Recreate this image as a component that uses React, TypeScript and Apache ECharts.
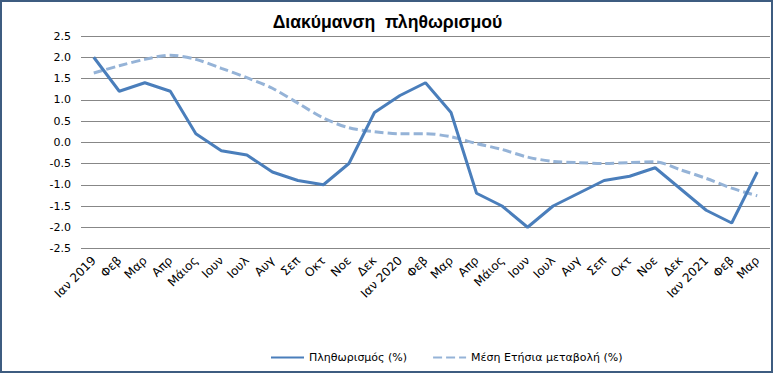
import React, { useEffect, useRef } from "react";
import * as echarts from "echarts";

const categories = [
  "Ιαν 2019", "Φεβ", "Μαρ", "Απρ", "Μάιος", "Ιουν", "Ιουλ", "Αυγ", "Σεπ", "Οκτ", "Νοε", "Δεκ",
  "Ιαν 2020", "Φεβ", "Μαρ", "Απρ", "Μάιος", "Ιουν", "Ιουλ", "Αυγ", "Σεπ", "Οκτ", "Νοε", "Δεκ",
  "Ιαν 2021", "Φεβ", "Μαρ",
];

const inflation = [
  2.0, 1.2, 1.4, 1.2, 0.2, -0.2, -0.3, -0.7, -0.9, -1.0, -0.5, 0.7,
  1.1, 1.4, 0.7, -1.2, -1.5, -2.0, -1.5, -1.2, -0.9, -0.8, -0.6, -1.1,
  -1.6, -1.9, -0.7,
];

const avgAnnual = [
  1.63, 1.8, 1.95, 2.05, 1.95, 1.74, 1.52, 1.27, 0.92, 0.57, 0.34, 0.25,
  0.2, 0.2, 0.13, -0.03, -0.17, -0.35, -0.45, -0.48, -0.5, -0.48, -0.46, -0.65,
  -0.85, -1.08, -1.26,
];

const seriesNames = ["Πληθωρισμός (%)", "Μέση Ετήσια μεταβολή (%)"];
const titleText = "Διακύμανση  πληθωρισμού";

export default function App() {
  const ref = useRef<HTMLDivElement>(null);
  useEffect(() => {
    if (!ref.current) return;
    const chart = echarts.init(ref.current, null, { renderer: "svg" });
    const font = "DejaVu Sans";
    chart.setOption({
      animation: false,
      backgroundColor: "#ffffff",
      title: {
        text: titleText,
        left: "center",
        top: 8,
        textStyle: {
          fontFamily: "Liberation Sans",
          fontWeight: "bold",
          fontSize: 17.6,
          color: "#000000",
        },
      },
      grid: { left: 81, right: 5, top: 36, bottom: 125.5 },
      xAxis: {
        type: "category",
        data: categories,
        boundaryGap: true,
        axisLine: { show: false },
        axisTick: { show: false },
        axisLabel: {
          interval: 0,
          rotate: 45,
          margin: 10,
          fontFamily: font,
          fontSize: 12,
          color: "#000000",
        },
      },
      yAxis: {
        type: "value",
        min: -2.5,
        max: 2.5,
        interval: 0.5,
        axisLine: { show: false },
        axisTick: { show: false },
        splitLine: { lineStyle: { color: "#878787", width: 1 } },
        axisLabel: {
          margin: 10,
          fontFamily: font,
          fontSize: 11,
          color: "#000000",
          formatter: (v: number) => v.toFixed(1),
        },
      },
      legend: {
        left: 270,
        top: 352,
        padding: 0,
        itemWidth: 33,
        itemHeight: 14,
        itemGap: 25,
        itemStyle: { opacity: 0 },
        textStyle: { fontFamily: font, fontSize: 11, color: "#000000" },
        data: seriesNames,
      },
      graphic: [
        {
          type: "rect",
          shape: { x: 1, y: 1, width: 771, height: 371 },
          style: { fill: "none", stroke: "#3E5C80", lineWidth: 2 },
          silent: true,
          z: 100,
        },
      ],
      series: [
        {
          name: seriesNames[0],
          type: "line",
          data: inflation,
          symbol: "none",
          lineStyle: { color: "#4A7EBB", width: 3 },
          itemStyle: { color: "#4A7EBB" },
          z: 3,
        },
        {
          name: seriesNames[1],
          type: "line",
          data: avgAnnual,
          symbol: "none",
          smooth: 0.3,
          lineStyle: { color: "#95B3D7", width: 3, type: [9, 4] },
          itemStyle: { color: "#95B3D7" },
          z: 2,
        },
      ],
    });
    return () => chart.dispose();
  }, []);
  return (
    <div
      ref={ref}
      style={{ position: "absolute", left: 0, top: 0, width: 775, height: 374 }}
    />
  );
}
